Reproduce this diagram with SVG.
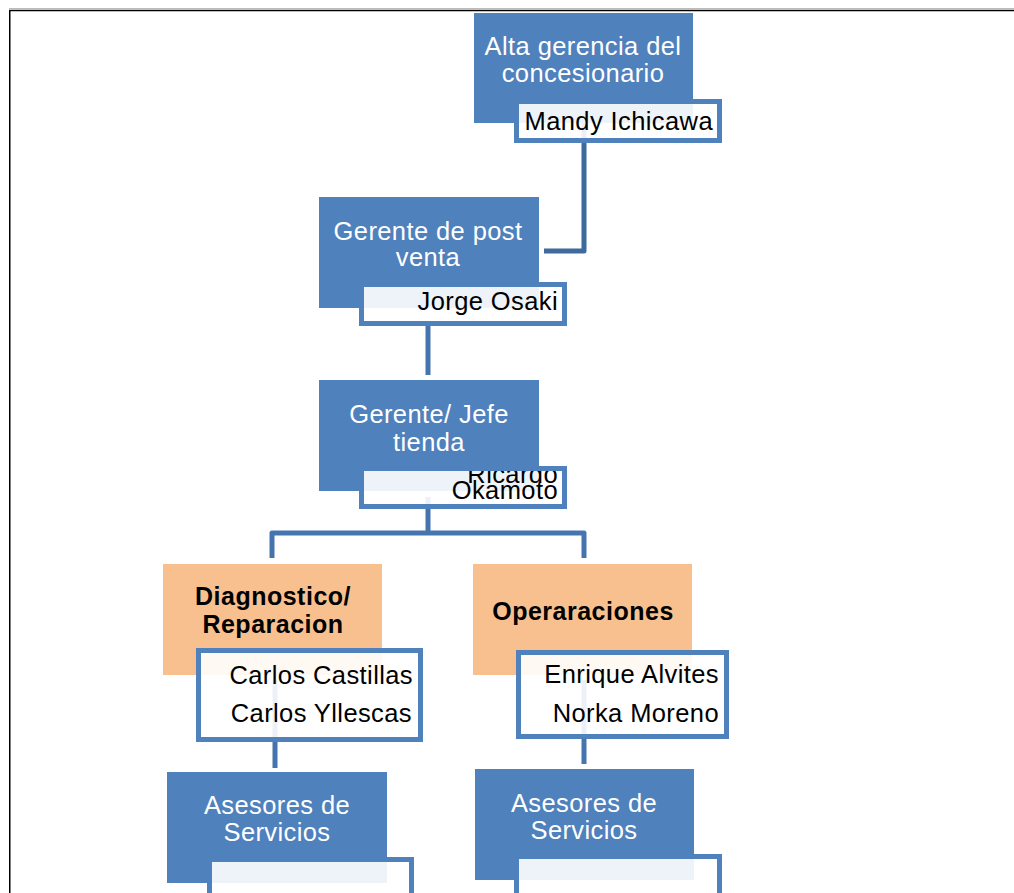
<svg xmlns="http://www.w3.org/2000/svg" width="1014" height="893" viewBox="0 0 1014 893">
<defs>
<style>
.blue{fill:#4F81BD}
.org{fill:#F9C08F}
.nb{fill:#FFFFFF;fill-opacity:0.9;stroke:#4F81BD;stroke-width:5}
.conn{fill:none;stroke:#4674AF;stroke-width:5;stroke-linejoin:round}
.wt{font-family:"Liberation Sans",Arial,sans-serif;font-size:25.5px;letter-spacing:0.4px;fill:#FFFFFF;text-anchor:middle}
.bk{font-family:"Liberation Sans",Arial,sans-serif;font-size:25.5px;letter-spacing:0.4px;fill:#000000;text-anchor:end}
.bd{font-family:"Liberation Sans",Arial,sans-serif;font-size:25px;letter-spacing:0.5px;font-weight:bold;fill:#000000;text-anchor:middle}
</style>
<clipPath id="clipN3"><rect x="364" y="471" width="198" height="33"/></clipPath>
</defs>
<rect x="0" y="0" width="1014" height="893" fill="#FFFFFF"/>
<g id="frame">
<line x1="9" y1="8.5" x2="1014" y2="8.5" stroke="#BBBBBB" stroke-width="1"/>
<line x1="9" y1="10.5" x2="1014" y2="10.5" stroke="#000000" stroke-width="1.5"/>
<line x1="9.75" y1="10" x2="9.75" y2="893" stroke="#000000" stroke-width="1.5"/>
</g>
<g id="connectors">
<path class="conn" d="M584,123 V251 H544" style="stroke:#3D6A9F"/>
<path class="conn" d="M428,326 V375"/>
<path class="conn" d="M272,558 V533 H584 V558 M428,497 V533"/>
<path class="conn" d="M275,680 V768"/>
<path class="conn" d="M584,680 V764"/>
</g>
<g id="node-alta-gerencia">
<rect class="blue" x="474" y="13" width="219" height="110"/>
<text class="wt" x="583" y="55">Alta gerencia del</text>
<text class="wt" x="583" y="82">concesionario</text>
<rect class="nb" x="516.5" y="101.5" width="203" height="39"/>
<text class="bk" x="713" y="130">Mandy Ichicawa</text>
</g>
<g id="node-gerente-post-venta">
<rect class="blue" x="319" y="197" width="220" height="111"/>
<text class="wt" x="428" y="240">Gerente de post</text>
<text class="wt" x="428" y="266">venta</text>
<rect class="nb" x="361.5" y="284.5" width="203" height="39"/>
<text class="bk" x="558" y="310">Jorge Osaki</text>
</g>
<g id="node-gerente-jefe-tienda">
<rect class="blue" x="319" y="380" width="220" height="111"/>
<text class="wt" x="429" y="423">Gerente/ Jefe</text>
<text class="wt" x="429" y="451">tienda</text>
<rect class="nb" x="361.5" y="468.5" width="203" height="38"/>
<g clip-path="url(#clipN3)">
<text class="bk" x="558" y="483">Ricardo</text>
<text class="bk" x="558" y="499">Okamoto</text>
</g>
</g>
<g id="node-diagnostico">
<rect class="org" x="163" y="564" width="219" height="111"/>
<text class="bd" x="273" y="605">Diagnostico/</text>
<text class="bd" x="273" y="633">Reparacion</text>
<rect class="nb" x="198.5" y="650.5" width="222" height="89"/>
<text class="bk" x="413" y="684">Carlos Castillas</text>
<text class="bk" x="412" y="722">Carlos Yllescas</text>
</g>
<g id="node-operaraciones">
<rect class="org" x="473" y="564" width="219" height="111"/>
<text class="bd" x="583" y="620">Operaraciones</text>
<rect class="nb" x="518.5" y="652.5" width="208" height="84"/>
<text class="bk" x="719" y="683">Enrique Alvites</text>
<text class="bk" x="719" y="722">Norka Moreno</text>
</g>
<g id="node-asesores-1">
<rect class="blue" x="167" y="772" width="220" height="111"/>
<text class="wt" x="277" y="814">Asesores de</text>
<text class="wt" x="277" y="841">Servicios</text>
<rect class="nb" x="209.5" y="859.5" width="202" height="60"/>
</g>
<g id="node-asesores-2">
<rect class="blue" x="475" y="769" width="219" height="111"/>
<text class="wt" x="584" y="812">Asesores de</text>
<text class="wt" x="584" y="839">Servicios</text>
<rect class="nb" x="516.5" y="856.5" width="203" height="60"/>
</g>
</svg>
